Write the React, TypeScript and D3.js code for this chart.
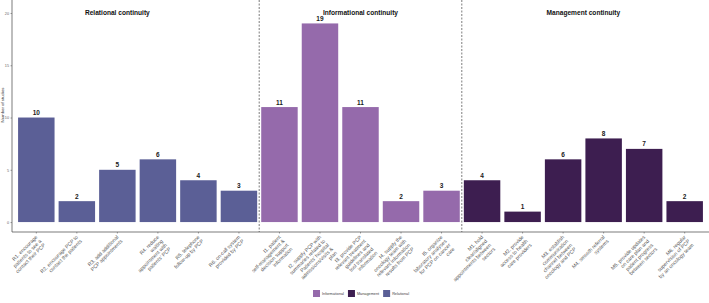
import React, { FC, useEffect, useRef } from "react"
import { select, scaleBand, scaleLinear, axisLeft, axisBottom } from "d3"

// data
const codes = [
  "R1", "R2", "R3", "R4", "R5", "R6",
  "I1", "I2", "I3", "I4", "I5",
  "M1", "M2", "M3", "M4", "M5", "M6",
]
const studies = [10, 2, 5, 6, 4, 3, 11, 19, 11, 2, 3, 4, 1, 6, 8, 7, 2]
const groups = [
  "Relational", "Relational", "Relational", "Relational", "Relational", "Relational",
  "Informational", "Informational", "Informational", "Informational", "Informational",
  "Management", "Management", "Management", "Management", "Management", "Management",
]
const labels = [
  ["R1. encourage", "patients to see a", "contact their PCP"],
  ["R2. encourage PCP to", "contact the patients"],
  ["R3. add additional", "PCP appointments"],
  ["R4. reduce", "waiting", "appointment with", "patients' PCP"],
  ["R5. telephone", "follow-up by PCP"],
  ["R6. on-call system", "provided by PCP"],
  ["I1. patient", "self-management &", "decision support", "information"],
  ["I2. supply PCP with", "summaries related to", "Patients' hospital", "admissions/visits &", "plan"],
  ["I3. provide PCP", "relevant treatment", "guidelines and", "tool translated", "information"],
  ["I4. supply the", "oncology team with", "relevant information", "results from PCP"],
  ["I5. organize", "laboratory analyses", "for PCP on cancer", "care"],
  ["M1. hold", "clear/aligned", "appointments between", "sectors"],
  ["M2. provide", "access to health", "care providers"],
  ["M3. establish", "communication", "channel between", "oncology and PCP"],
  ["M4. smooth referral", "systems"],
  ["M5. provide updates", "on care plan and", "patient progress", "between sectors"],
  ["M6. regular", "supervision of PCP", "by an oncology team"],
]
const yTicks = [0, 5, 10, 15, 20]
const sectionTitles = ["Relational continuity", "Informational continuity", "Management continuity"]
const sectionAt = ["R3", "I3", "M3"]
const sectionShift = [0, 0, 0.5] // in bands
const dividersAfter = ["R6", "I5"]
const legendKeys = ["Informational", "Management", "Relational"]

const colors: Record<string, string> = {
  Relational: "#5b5f96",
  Informational: "#956aab",
  Management: "#3d1e50",
}

const App: FC = () => {
  const ref = useRef<SVGSVGElement>(null)

  useEffect(() => {
    if (!ref.current) return
    const width = 709
    const height = 303
    const panel = { left: 12, right: 709, top: 0, bottom: 232 }

    const svg = select(ref.current)
    svg.selectAll("*").remove()
    svg.attr("width", width).attr("height", height)

    const x = scaleBand<string>()
      .domain(codes)
      .range([panel.left, panel.right])
      .paddingInner(0.1)
      .paddingOuter(0.15)
    const y = scaleLinear().domain([-0.95, 19.95]).range([232, 13.5])
    const step = x.step()
    const center = (c: string) => (x(c) ?? 0) + x.bandwidth() / 2

    // bars
    svg
      .append("g")
      .selectAll("rect")
      .data(codes)
      .join("rect")
      .attr("x", (d) => x(d) ?? 0)
      .attr("width", x.bandwidth())
      .attr("y", (_, i) => y(studies[i]))
      .attr("height", (_, i) => y(0) - y(studies[i]))
      .attr("fill", (_, i) => colors[groups[i]])

    // value labels
    svg
      .append("g")
      .selectAll("text")
      .data(codes)
      .join("text")
      .attr("x", (d) => center(d))
      .attr("y", (_, i) => y(studies[i]) - 2.5)
      .attr("text-anchor", "middle")
      .style("font-family", "Liberation Sans, Arial, sans-serif")
      .style("font-weight", "bold")
      .style("font-size", "6.5px")
      .style("fill", "#1a1a1a")
      .text((_, i) => String(studies[i]))

    // dividers
    dividersAfter.forEach((c) => {
      const xv = (x(c) ?? 0) + x.bandwidth() + (step - x.bandwidth()) / 2
      svg
        .append("line")
        .attr("x1", xv)
        .attr("x2", xv)
        .attr("y1", panel.top)
        .attr("y2", panel.bottom)
        .attr("stroke", "#444")
        .attr("stroke-width", 0.7)
        .attr("stroke-dasharray", "2,1.5")
    })

    // section titles
    sectionTitles.forEach((t, i) => {
      svg
        .append("text")
        .attr("x", center(sectionAt[i]) + sectionShift[i] * step)
        .attr("y", y(20))
        .attr("dy", "0.35em")
        .attr("text-anchor", "middle")
        .style("font-family", "Liberation Sans, Arial, sans-serif")
        .style("font-weight", "bold")
        .style("font-size", "6.6px")
        .style("fill", "#111")
        .text(t)
    })

    // y axis
    const yAxis = svg
      .append("g")
      .attr("transform", `translate(${panel.left},0)`)
      .call(axisLeft(y).tickValues(yTicks).tickSize(1.5).tickPadding(1.5))
    yAxis.select(".domain").attr("d", `M0,${panel.top}V${panel.bottom}`).attr("stroke", "#444").attr("stroke-width", 0.7)
    yAxis.selectAll(".tick line").attr("stroke", "#444").attr("stroke-width", 0.5)
    yAxis
      .selectAll(".tick text")
      .style("font-family", "Liberation Sans, Arial, sans-serif")
      .style("font-size", "3.8px")
      .style("fill", "#666")

    svg
      .append("text")
      .attr("transform", `translate(4,105) rotate(-90)`)
      .attr("text-anchor", "middle")
      .style("font-family", "Liberation Sans, Arial, sans-serif")
      .style("font-size", "4.3px")
      .style("fill", "#333")
      .text("Number of studies")

    // x axis
    const xAxis = svg
      .append("g")
      .attr("transform", `translate(0,${panel.bottom})`)
      .call(axisBottom(x).tickSize(1.5).tickFormat(() => ""))
    xAxis.select(".domain").attr("d", `M${panel.left},0H${panel.right}`).attr("stroke", "#444").attr("stroke-width", 0.7)
    xAxis.selectAll(".tick line").attr("stroke", "#444").attr("stroke-width", 0.5)

    const lh = 5.6
    svg
      .append("g")
      .selectAll("text")
      .data(codes)
      .join("text")
      .attr("transform", (d) => `translate(${center(d) + 1.5},${panel.bottom + 5.5}) rotate(-45)`)
      .attr("text-anchor", "end")
      .style("font-family", "Liberation Sans, Arial, sans-serif")
      .style("font-size", "5.1px")
      .style("fill", "#555")
      .each(function (_, i) {
        const t = select(this)
        labels[i].forEach((line, j) => {
          t.append("tspan")
            .attr("x", 0)
            .attr("y", j * lh)
            .text(line)
        })
      })

    // legend
    const lg = svg.append("g").attr("transform", "translate(313,290)")
    let off = 0
    legendKeys.forEach((k) => {
      lg.append("rect")
        .attr("x", off)
        .attr("y", 0)
        .attr("width", 7)
        .attr("height", 7)
        .attr("fill", colors[k])
      const txt = lg
        .append("text")
        .attr("x", off + 9)
        .attr("y", 3.5)
        .attr("dy", "0.35em")
        .style("font-family", "Liberation Sans, Arial, sans-serif")
        .style("font-size", "3.8px")
        .style("fill", "#444")
        .text(k)
      const w = (txt.node() as SVGTextElement).getComputedTextLength()
      off += 9 + w + 4
    })
  }, [])

  return (
    <svg
      ref={ref}
      width={709}
      height={303}
      style={{ position: "absolute", left: 0, top: 0, background: "#fff" }}
    />
  )
}

export default App
